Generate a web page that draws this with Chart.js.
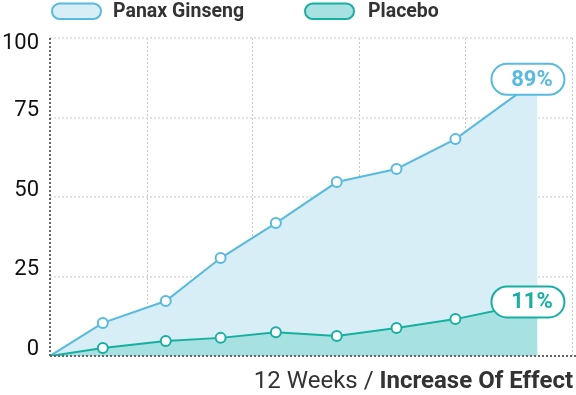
<!DOCTYPE html>
<html>
<head>
<meta charset="utf-8">
<script src="https://cdn.jsdelivr.net/npm/chart.js@4.4.0/dist/chart.umd.min.js"></script>
<style>
  body { margin: 0; background: #fff; }
  #wrap { width: 576px; height: 395px; position: relative; }
</style>
</head>
<body>
<div id="wrap"><canvas id="myChart"></canvas></div>
<script>
// data
const seriesNames = ["Panax Ginseng", "Placebo"];
const weeks = [0, 1.3, 2.85, 4.2, 5.56, 7.06, 8.53, 9.98, 12];
const ginseng = [0, 10.4, 17.3, 30.8, 41.8, 54.7, 58.8, 68.2, 87];
const placebo = [0, 2.5, 4.7, 5.7, 7.5, 6.3, 8.8, 11.6, 17];
const endLabels = ["89%", "11%"];
const gridWeeks = [2.39, 4.99, 7.62, 10.23, 12.86];
const yTicks = [0, 25, 50, 75, 100];

const blue = "#57badf", blueFill = "#d8eef6";
const teal = "#15b0a0", tealFill = "#a8e1e1";

function pill(ctx, x, y, w, h) {
  const r = h / 2;
  ctx.beginPath();
  ctx.moveTo(x + r, y);
  ctx.lineTo(x + w - r, y);
  ctx.arc(x + w - r, y + r, r, -Math.PI / 2, Math.PI / 2);
  ctx.lineTo(x + r, y + h);
  ctx.arc(x + r, y + r, r, Math.PI / 2, Math.PI * 1.5);
  ctx.closePath();
}

const toPoints = (vals) => vals.map((v, i) => ({ x: weeks[i], y: v }));
const hideEnds = (ctx) => (ctx.dataIndex === 0 || ctx.dataIndex === weeks.length - 1) ? 0 : 5;

// extra drawing: axis lines, tick labels, end labels, legend, title
const decor = {
  id: "decor",
  afterDatasetsDraw(chart) {
    const ctx = chart.ctx;
    const a = chart.chartArea;
    const xs = chart.scales.x, ys = chart.scales.y;

    // dotted axis lines
    ctx.save();
    ctx.strokeStyle = "#666";
    ctx.lineWidth = 2;
    ctx.setLineDash([2, 2]);
    ctx.beginPath();
    ctx.moveTo(a.left, a.top);
    ctx.lineTo(a.left, a.bottom);
    ctx.moveTo(a.left, a.bottom);
    ctx.lineTo(576, a.bottom);
    ctx.stroke();
    ctx.restore();

    // end labels
    const colors = [blue, teal];
    [ginseng, placebo].forEach(function(vals, k) {
      const last = vals.length - 1;
      const px = xs.getPixelForValue(weeks[last]);
      const py = ys.getPixelForValue(vals[last]);
      const w = 73, h = 31;
      const cx = px - 9.5;
      ctx.save();
      pill(ctx, cx - w / 2, py - h / 2, w, h);
      ctx.fillStyle = "#fff";
      ctx.fill();
      ctx.lineWidth = 2;
      ctx.strokeStyle = colors[k];
      ctx.stroke();
      ctx.fillStyle = colors[k];
      ctx.font = "bold 22px Roboto";
      ctx.textAlign = "center";
      ctx.textBaseline = "middle";
      ctx.fillText(endLabels[k], cx + 4, py + 1);
      ctx.restore();
    });
  },
  afterDraw(chart) {
    const ctx = chart.ctx;
    const ys = chart.scales.y;

    // y tick labels sit just above their grid line
    ctx.save();
    ctx.fillStyle = "#111";
    ctx.font = "22px Roboto";
    ctx.textAlign = "right";
    ctx.textBaseline = "middle";
    yTicks.forEach(function(v) {
      let y = ys.getPixelForValue(v) - 7;
      if (y < 43) y = 43;
      ctx.fillText(String(v), 39, y);
    });
    ctx.restore();

    // x axis title
    ctx.save();
    ctx.fillStyle = "#333";
    ctx.textBaseline = "alphabetic";
    ctx.textAlign = "right";
    ctx.font = "bold 24px Roboto";
    const boldPart = "Increase Of Effect";
    ctx.fillText(boldPart, 573, 388);
    const bw = ctx.measureText(boldPart).width;
    ctx.font = "24px Roboto";
    ctx.fillText("12 Weeks / ", 573 - bw, 388);
    ctx.restore();

    // legend
    const items = [
      { x: 52, textX: 113, line: blue, fill: blueFill },
      { x: 305, textX: 368, line: teal, fill: tealFill }
    ];
    ctx.save();
    items.forEach(function(it, k) {
      pill(ctx, it.x, 3.5, 49, 15.5);
      ctx.fillStyle = it.fill;
      ctx.fill();
      ctx.lineWidth = 2;
      ctx.strokeStyle = it.line;
      ctx.stroke();
      ctx.fillStyle = "#333";
      ctx.font = "bold 19.5px Roboto";
      ctx.textAlign = "left";
      ctx.textBaseline = "middle";
      ctx.fillText(seriesNames[k], it.textX, 12);
    });
    ctx.restore();
  }
};

const data = {
  datasets: [{
    label: seriesNames[0],
    data: toPoints(ginseng),
    borderColor: blue,
    backgroundColor: blueFill,
    borderWidth: 2,
    fill: "origin",
    order: 1,
    pointRadius: hideEnds,
    pointBackgroundColor: "#fff",
    pointBorderColor: blue,
    pointBorderWidth: 2
  }, {
    label: seriesNames[1],
    data: toPoints(placebo),
    borderColor: teal,
    backgroundColor: tealFill,
    borderWidth: 2,
    fill: "origin",
    order: 0,
    pointRadius: hideEnds,
    pointBackgroundColor: "#fff",
    pointBorderColor: teal,
    pointBorderWidth: 2
  }]
};

const config = {
  type: "line",
  data: data,
  plugins: [decor],
  options: {
    responsive: true,
    maintainAspectRatio: false,
    animation: false,
    layout: { padding: { left: 50, right: 2, top: 38, bottom: 39 } },
    plugins: {
      legend: { display: false },
      tooltip: { enabled: false }
    },
    scales: {
      x: {
        type: "linear",
        min: 0,
        max: 12.9,
        afterBuildTicks: function(s) { s.ticks = gridWeeks.map(v => ({ value: v })); },
        afterFit: function(s) { s.height = 0; },
        ticks: { display: false },
        grid: { color: "#c9c9c9", lineWidth: 1, drawTicks: false },
        border: { display: false, dash: [2, 2] }
      },
      y: {
        min: 0,
        max: 100,
        afterBuildTicks: function(s) { s.ticks = yTicks.map(v => ({ value: v })); },
        afterFit: function(s) { s.width = 0; },
        ticks: { display: false },
        grid: { color: "#e3e3e3", lineWidth: 2, drawTicks: false },
        border: { display: false, dash: [2, 2] }
      }
    }
  }
};

var myChart = new Chart(document.getElementById("myChart"), config);
</script>
</body>
</html>
